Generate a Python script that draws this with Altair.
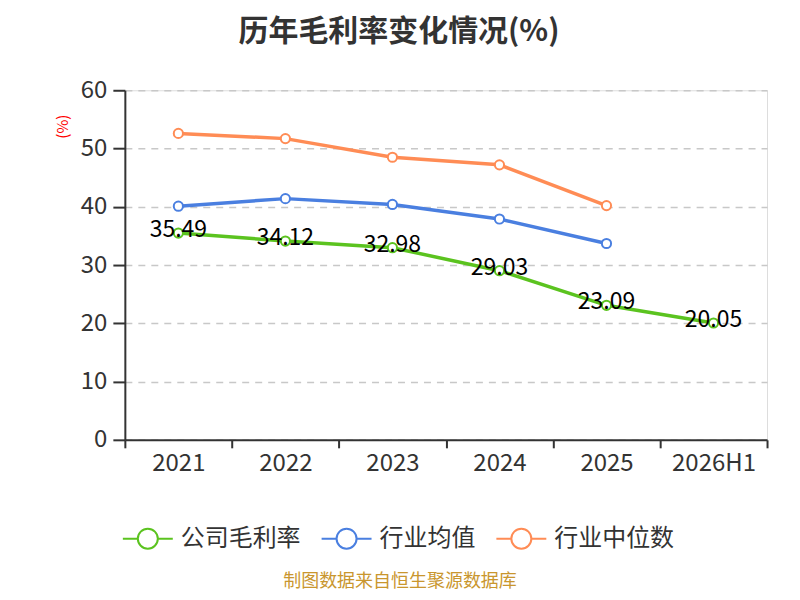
import altair as alt
import pandas as pd

years = ["2021", "2022", "2023", "2024", "2025", "2026H1"]
company = [35.49, 34.12, 32.98, 29.03, 23.09, 20.05]
industry_avg = [40.1, 41.4, 40.4, 37.9, 33.7, None]
industry_med = [52.6, 51.7, 48.5, 47.2, 40.2, None]

series_names = ["公司毛利率", "行业均值", "行业中位数"]
series_colors = ["#5BC31F", "#4A7FE0", "#FF8C55"]

rows = []
for name, vals in zip(series_names, [company, industry_avg, industry_med]):
    for y, v in zip(years, vals):
        if v is not None:
            rows.append({"year": y, "series": name, "value": v})
df = pd.DataFrame(rows)

FONT = "Noto Sans CJK SC"
legend_path = ("M-2.5,0L-1,0M1,0L2.5,0"
               "M-1,0A1,1,0,1,1,1,0A1,1,0,1,1,-1,0Z")

x_enc = alt.X("year:N", sort=years,
              scale=alt.Scale(paddingInner=0, paddingOuter=0),
              axis=alt.Axis(title="制图数据来自恒生聚源数据库", titleColor="#C9962E",
                            titleFontSize=18, titleFontWeight="normal", titleFont=FONT,
                            titleY=133, titleX=275,
                            labelAngle=0, labelFontSize=24, labelColor="#333333", labelFont=FONT,
                            labelPadding=4, domainColor="#333333", domainWidth=2,
                            tickColor="#333333", tickWidth=2, tickSize=8, tickBand="extent",
                            grid=False))
y_enc = alt.Y("value:Q", scale=alt.Scale(domain=[0, 60], nice=False),
              axis=alt.Axis(title="(%)", titleColor="red", titleFontSize=15,
                            titleFontWeight="normal", titleFont=FONT, titleAngle=-90,
                            titleX=-62, titleY=36, titleAlign="center", titleBaseline="middle",
                            values=[0, 10, 20, 30, 40, 50, 60],
                            labelFontSize=24, labelColor="#333333", labelFont=FONT,
                            labelPadding=6, domainColor="#333333", domainWidth=2,
                            tickColor="#333333", tickWidth=2, tickSize=12,
                            grid=True, gridColor="#C8C8C8", gridDash=[7, 6], gridWidth=1.5))
color_enc = alt.Color("series:N", sort=series_names,
                      scale=alt.Scale(domain=series_names, range=series_colors),
                      legend=alt.Legend(title=None, orient="none", direction="horizontal",
                                        legendX=11, legendY=437,
                                        symbolType=legend_path, symbolSize=400,
                                        symbolStrokeWidth=2, symbolFillColor="white",
                                        labelFontSize=24, labelColor="#333333", labelFont=FONT,
                                        labelOffset=21, columnPadding=17))

lines = alt.Chart(df).mark_line(strokeWidth=3.5).encode(
    x=x_enc, y=y_enc, color=color_enc, detail="series:N")
points = alt.Chart(df).mark_point(filled=False, fill="white", size=85, strokeWidth=2,
                                  opacity=1, fillOpacity=1, shape="circle").encode(
    x=alt.X("year:N", sort=years), y="value:Q",
    stroke=alt.Stroke("series:N", scale=alt.Scale(domain=series_names, range=series_colors),
                      legend=None))
labels = alt.Chart(df[df["series"] == "公司毛利率"]).mark_text(
    fontSize=23, font=FONT, color="black", dy=-3, baseline="middle", align="center"
).encode(x=alt.X("year:N", sort=years), y="value:Q", text=alt.Text("value:Q", format=".2f"))

chart = alt.layer(lines, points, labels).properties(
    width=643, height=350,
    autosize=alt.AutoSizeParams(type="none"),
    padding={"left": 117, "top": 82, "right": 25, "bottom": 152},
    title=alt.TitleParams("历年毛利率变化情况(%)", fontSize=30, fontWeight="bold", font=FONT,
                          color="#333333", anchor="middle", dx=-47, offset=31),
).configure_view(stroke=None).configure(background="white")

chart.save("out.html", embed_options={"renderer": "svg", "actions": False})
